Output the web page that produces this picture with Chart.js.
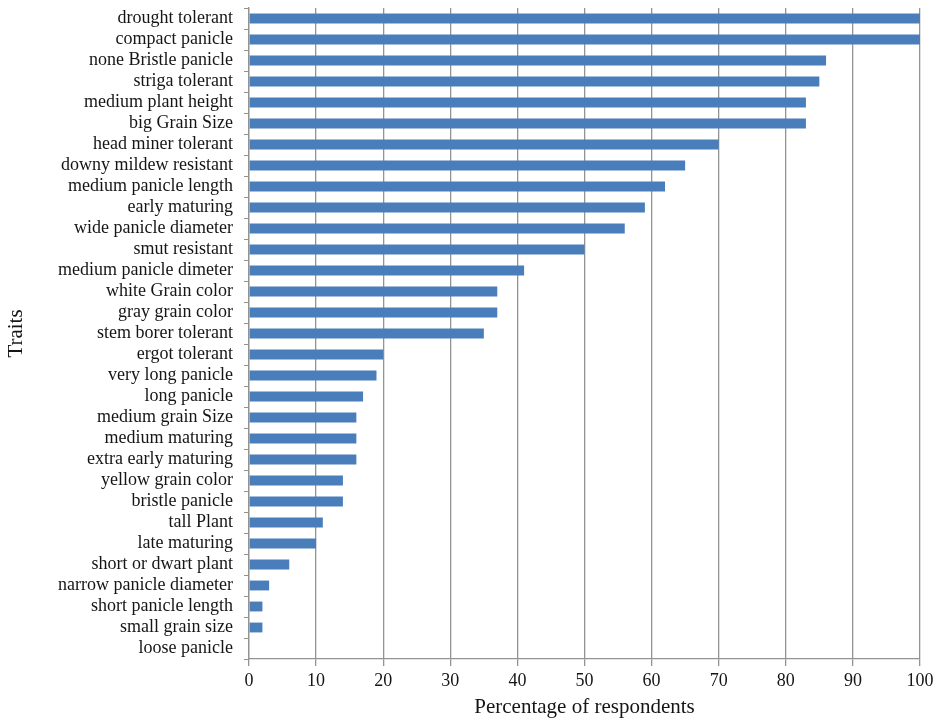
<!DOCTYPE html>
<html>
<head>
<meta charset="utf-8">
<script src="https://cdn.jsdelivr.net/npm/chart.js@4"></script>
<style>
  html, body { margin: 0; padding: 0; background: #fff; }
  #wrap { position: relative; width: 938px; height: 720px; }
</style>
</head>
<body>
<div id="wrap"><canvas id="traitsChart"></canvas></div>
<script>
// Traits preferred by respondents
const traits = [
  'drought tolerant', 'compact panicle', 'none Bristle panicle', 'striga tolerant',
  'medium plant height', 'big Grain Size', 'head miner tolerant', 'downy mildew resistant',
  'medium panicle length', 'early maturing', 'wide panicle diameter', 'smut resistant',
  'medium panicle dimeter', 'white Grain color', 'gray grain color', 'stem borer tolerant',
  'ergot tolerant', 'very long panicle', 'long panicle', 'medium grain Size',
  'medium maturing', 'extra early maturing', 'yellow grain color', 'bristle panicle',
  'tall Plant', 'late maturing', 'short or dwart plant', 'narrow panicle diameter',
  'short panicle length', 'small grain size', 'loose panicle'
];
const percentages = [
  100, 100, 86, 85,
  83, 83, 70, 65,
  62, 59, 56, 50,
  41, 37, 37, 35,
  20, 19, 17, 16,
  16, 16, 14, 14,
  11, 10, 6, 3,
  2, 2, 0
];
const xTicks = [0, 10, 20, 30, 40, 50, 60, 70, 80, 90, 100];

const serif = "'Liberation Serif', 'DejaVu Serif', serif";
const textColor = '#151515';
const gridColor = '#939393';

new Chart(document.getElementById('traitsChart'), {
  type: 'bar',
  data: {
    labels: traits,
    datasets: [{
      data: percentages,
      backgroundColor: '#4a7ebb',
      borderWidth: 0,
      barPercentage: 0.47,
      categoryPercentage: 1
    }]
  },
  options: {
    indexAxis: 'y',
    responsive: true,
    maintainAspectRatio: false,
    animation: false,
    layout: { padding: { top: 8, right: 18, left: 0, bottom: 0 } },
    plugins: { legend: { display: false }, tooltip: { enabled: false } },
    scales: {
      x: {
        min: 0, max: 100,
        afterBuildTicks: s => { s.ticks = xTicks.map(v => ({ value: v })); },
        afterFit: s => { s.height = 61; s.paddingLeft = 0; s.paddingRight = 0; },
        grid: { color: gridColor, lineWidth: 1.3, tickLength: 7 },
        border: { color: gridColor, width: 1.3 },
        ticks: { color: textColor, font: { family: serif, size: 18 }, padding: 4, maxRotation: 0 },
        title: {
          display: true, text: 'Percentage of respondents', color: textColor,
          font: { family: serif, size: 21 }, padding: { top: 4, bottom: 0 }
        }
      },
      y: {
        afterFit: s => { s.width = 249; s.paddingTop = 0; s.paddingBottom = 0; },
        grid: { drawOnChartArea: false, color: gridColor, tickLength: 5 },
        border: { color: gridColor, width: 1.3 },
        ticks: { color: textColor, font: { family: serif, size: 18 }, padding: 11, autoSkip: false },
        title: {
          display: true, text: 'Traits', color: textColor,
          font: { family: serif, size: 21 }, padding: { top: 4, bottom: 0 }
        }
      }
    }
  }
});
</script>
</body>
</html>
